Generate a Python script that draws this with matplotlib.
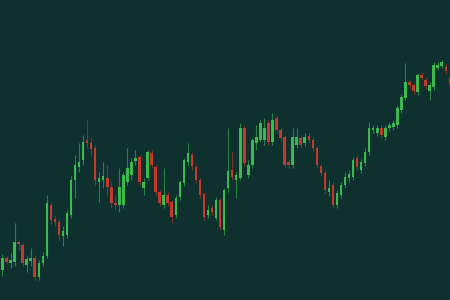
import matplotlib
matplotlib.use('Agg')
import matplotlib.pyplot as plt
import numpy as np

# OHLC values (one candle per session)
opens = [30, 42, 37, 38, 58, 55, 35, 39, 42, 23, 37, 44, 95, 81, 78, 64, 65, 85, 120, 133,
         140, 160, 157, 152, 118, 120, 122, 113, 97, 95, 95, 118, 125, 139, 143, 112, 122, 147, 133, 108,
         95, 105, 98, 85, 103, 117, 138, 145, 133, 120, 106, 85, 92, 82, 100, 70, 112, 130, 120, 122,
         172, 125, 135, 157, 160, 160, 177, 158, 182, 170, 163, 138, 135, 155, 162, 157, 164, 160, 152, 134,
         127, 108, 115, 95, 105, 115, 122, 123, 142, 130, 137, 148, 170, 167, 172, 163, 172, 173, 175, 190,
         202, 218, 215, 208, 225, 220, 209, 213, 232, 234, 233, 222]
closes = [42, 38, 40, 58, 56, 37, 41, 42, 23, 37, 44, 97, 80, 78, 65, 69, 87, 120, 135, 138,
          158, 157, 151, 120, 122, 124, 113, 97, 95, 113, 125, 132, 138, 142, 118, 118, 148, 135, 108, 97,
          105, 97, 83, 102, 118, 140, 147, 134, 120, 105, 83, 90, 88, 100, 73, 110, 129, 123, 125, 172,
          137, 135, 160, 163, 177, 172, 158, 180, 170, 162, 135, 135, 163, 163, 155, 163, 160, 152, 135, 127,
          110, 112, 95, 107, 115, 123, 126, 140, 133, 138, 148, 172, 172, 172, 165, 172, 175, 177, 192, 203,
          218, 215, 209, 225, 222, 214, 215, 235, 235, 238, 229, 216]
highs = [46, 44, 47, 77, 60, 57, 44, 52, 45, 40, 48, 105, 98, 85, 80, 74, 90, 124, 145, 157,
         165, 180, 162, 155, 128, 138, 135, 118, 105, 132, 128, 152, 142, 150, 145, 122, 150, 150, 135, 110,
         132, 108, 100, 105, 120, 142, 157, 148, 135, 122, 108, 95, 95, 103, 102, 112, 172, 148, 128, 177,
         175, 140, 162, 175, 180, 182, 180, 187, 185, 173, 165, 141, 172, 172, 165, 167, 167, 163, 154, 136,
         130, 120, 118, 110, 118, 128, 130, 143, 145, 141, 152, 178, 175, 175, 175, 175, 178, 180, 195, 206,
         237, 220, 217, 227, 228, 222, 218, 238, 238, 240, 236, 224]
lows = [24, 36, 32, 34, 50, 34, 28, 34, 20, 20, 34, 42, 76, 74, 60, 54, 62, 82, 102, 128,
        135, 152, 145, 115, 98, 112, 105, 92, 90, 88, 92, 115, 120, 135, 115, 105, 120, 132, 105, 94,
        92, 94, 78, 82, 100, 114, 135, 130, 117, 102, 80, 82, 85, 80, 70, 65, 108, 120, 102, 120,
        134, 122, 132, 150, 158, 155, 155, 155, 167, 159, 133, 132, 132, 152, 152, 154, 157, 149, 132, 124,
        107, 104, 92, 92, 102, 112, 118, 120, 130, 127, 134, 145, 167, 164, 162, 160, 169, 170, 172, 187,
        200, 212, 206, 205, 220, 211, 200, 210, 230, 232, 226, 213]

bg = '#0e3130'
up_col = '#3fc451'
down_col = '#d23a2b'

o = np.array(opens)
c = np.array(closes)
h = np.array(highs)
l = np.array(lows)
idx = np.arange(len(o))
cols = np.where(c >= o, up_col, down_col)

fig = plt.figure(figsize=(4.5, 3), dpi=100, facecolor=bg)
ax = fig.add_axes([0, 0, 1, 1])
ax.set_facecolor(bg)

# wicks
ax.vlines(idx, l, h, colors=cols, linewidth=0.8, alpha=0.55)
# bodies
body_bot = np.minimum(o, c)
body_h = np.maximum(np.abs(c - o), 2)
ax.bar(idx, body_h, bottom=body_bot, width=0.62, color=cols, edgecolor='none', alpha=0.92)

ax.set_xlim(-0.62, 111.05)
ax.set_ylim(0, 300)
ax.axis('off')

fig.savefig('out.png', dpi=100, facecolor=bg)
